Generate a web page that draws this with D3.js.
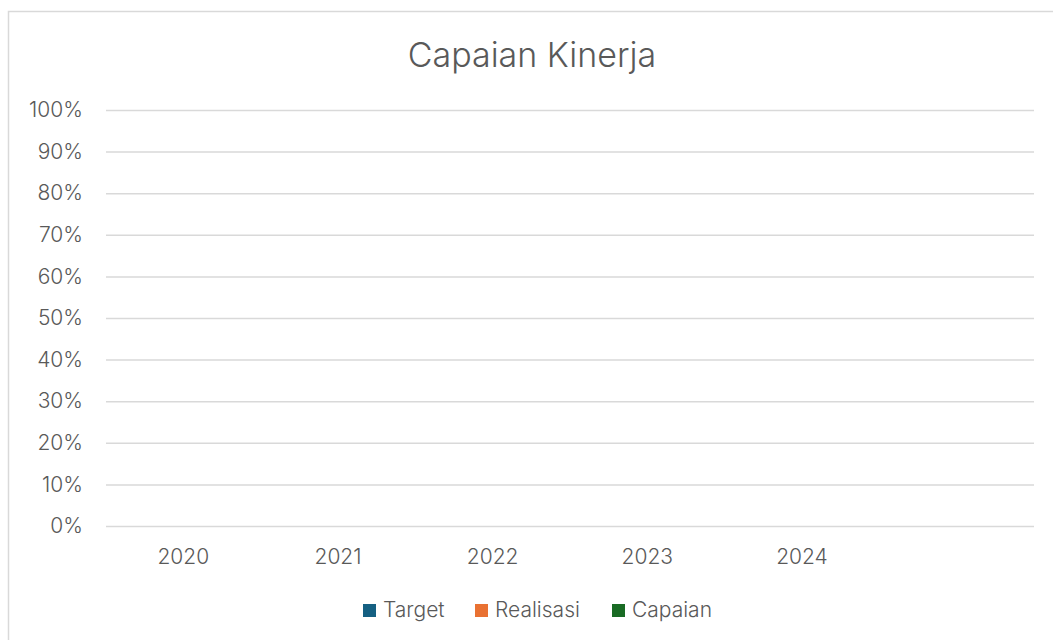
<!DOCTYPE html>
<html>
<head>
<meta charset="utf-8">
<script src="https://cdn.jsdelivr.net/npm/d3@7"></script>
<style>
	body { margin: 0; background: #fff; }
	text { font-family: Inter, "Open Sans", sans-serif; font-weight: 300; fill: #595959; }
</style>
</head>
<body>
<div id="chart"></div>
<script>
var width = 1053;
var height = 640;

// categories (last slot is empty in the source sheet)
var years = ["2020", "2021", "2022", "2023", "2024", ""];
var seriesNames = ["Target", "Realisasi", "Capaian"];
var seriesColors = ["#156082", "#E97132", "#196B24"];
// no values entered yet
var target = [null, null, null, null, null, null];
var realisasi = [null, null, null, null, null, null];
var capaian = [null, null, null, null, null, null];
var yTicks = [0, 0.1, 0.2, 0.3, 0.4, 0.5, 0.6, 0.7, 0.8, 0.9, 1];

var values = [target, realisasi, capaian];

var svg = d3.select("#chart")
	.append("svg")
	.attr("width", width)
	.attr("height", height);

// chart area border
svg.append("rect")
	.attr("x", 8.5)
	.attr("y", 11.5)
	.attr("width", 1100)
	.attr("height", 700)
	.attr("fill", "#fff")
	.attr("stroke", "#d9d9d9")
	.attr("stroke-width", 1.5);

var xScale = d3.scaleBand().domain(years).range([106, 1034]);
var yScale = d3.scaleLinear().domain([0, 1]).range([526, 110]);
var inner = d3.scaleBand().domain(seriesNames).range([0, xScale.bandwidth()]).paddingInner(0.1).paddingOuter(0.9);

svg.append("text")
	.attr("x", 532)
	.attr("y", 67)
	.attr("text-anchor", "middle")
	.style("font-size", "34px")
	.text("Capaian Kinerja");

var yAxis = d3.axisLeft(yScale)
	.tickValues(yTicks)
	.tickFormat(d3.format(".0%"))
	.tickSize(-(1034 - 106))
	.tickPadding(23);

var gy = svg.append("g")
	.attr("transform", "translate(106,0)")
	.call(yAxis);
gy.select(".domain").remove();
gy.selectAll(".tick line").attr("stroke", "#d9d9d9").attr("stroke-width", 1.5);
gy.selectAll(".tick text")
	.style("font-size", "21px")
	.style("font-family", "Inter, sans-serif")
	.attr("fill", "#595959");

var xAxis = d3.axisBottom(xScale).tickSize(0).tickPadding(23);
var gx = svg.append("g")
	.attr("transform", "translate(0,526)")
	.call(xAxis);
gx.select(".domain").remove();
gx.selectAll(".tick text")
	.style("font-size", "21px")
	.style("font-family", "Inter, sans-serif")
	.attr("fill", "#595959");

// bars (none drawn while values are empty)
values.forEach(function (vals, s) {
	svg.append("g")
		.selectAll("rect")
		.data(vals.map(function (v, i) { return { year: years[i], v: v }; })
			.filter(function (d) { return d.v != null; }))
		.enter()
		.append("rect")
		.attr("x", function (d) { return xScale(d.year) + inner(seriesNames[s]); })
		.attr("width", inner.bandwidth())
		.attr("y", function (d) { return yScale(d.v); })
		.attr("height", function (d) { return yScale(0) - yScale(d.v); })
		.attr("fill", seriesColors[s]);
});

// legend
var legendX = [363, 475, 612];
var legend = svg.append("g");
seriesNames.forEach(function (name, i) {
	legend.append("rect")
		.attr("x", legendX[i])
		.attr("y", 604)
		.attr("width", 13)
		.attr("height", 13)
		.attr("fill", seriesColors[i]);
	legend.append("text")
		.attr("x", legendX[i] + 20)
		.attr("y", 617)
		.style("font-size", "21px")
		.text(name);
});
</script>
</body>
</html>
